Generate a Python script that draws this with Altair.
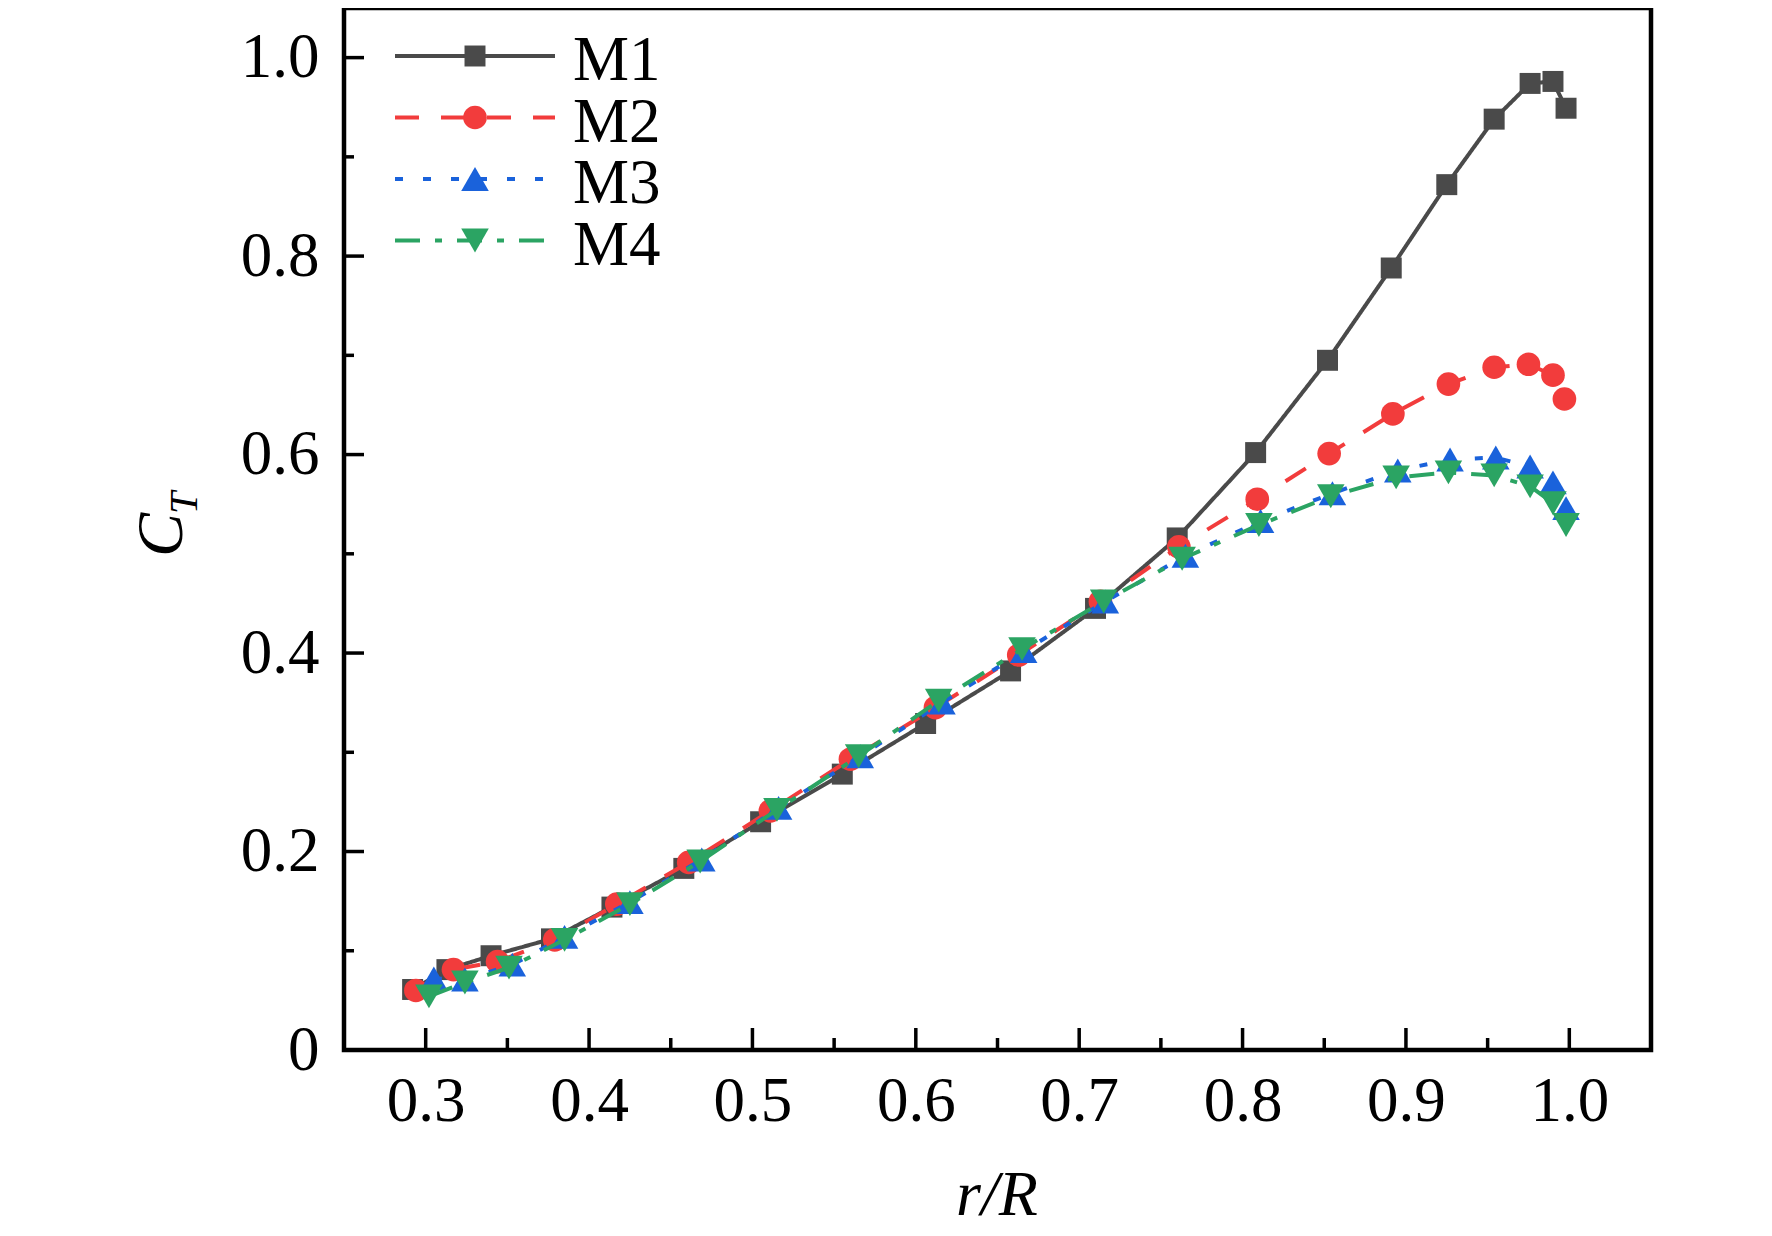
import altair as alt
import pandas as pd

series = ["M1", "M2", "M3", "M4"]
colors = ["#4a4a4a", "#f23c3c", "#1a62db", "#2ba463"]
shapes = ["square", "circle", "triangle-up", "triangle-down"]
sizes = [440, 560, 760, 760]
dashes = [[1, 0], [24, 22], [8, 20], [25, 15, 7, 15]]

m1_x = [0.292, 0.313, 0.340, 0.377, 0.414, 0.458, 0.505, 0.555, 0.606, 0.658,
        0.710, 0.760, 0.808, 0.852, 0.891, 0.925, 0.954, 0.976, 0.990, 0.998]
m1_y = [0.061, 0.081, 0.095, 0.112, 0.144, 0.183, 0.230, 0.278, 0.329, 0.382,
        0.445, 0.516, 0.602, 0.695, 0.788, 0.872, 0.938, 0.974, 0.976, 0.949]

m2_x = [0.294, 0.317, 0.344, 0.379, 0.417, 0.461, 0.511, 0.560, 0.612, 0.663,
        0.713, 0.761, 0.809, 0.853, 0.892, 0.926, 0.954, 0.975, 0.990, 0.997]
m2_y = [0.060, 0.081, 0.089, 0.111, 0.147, 0.189, 0.241, 0.293, 0.345, 0.398,
        0.452, 0.507, 0.555, 0.601, 0.641, 0.671, 0.688, 0.691, 0.680, 0.656]

m3_x = [0.305, 0.324, 0.353, 0.385, 0.425, 0.469, 0.516, 0.566, 0.616, 0.666,
        0.716, 0.765, 0.811, 0.855, 0.895, 0.927, 0.955, 0.976, 0.990, 0.998]
m3_y = [0.072, 0.071, 0.086, 0.114, 0.149, 0.192, 0.244, 0.296, 0.350, 0.402,
        0.452, 0.498, 0.533, 0.561, 0.584, 0.595, 0.597, 0.588, 0.572, 0.546]

m4_x = [0.302, 0.324, 0.351, 0.385, 0.425, 0.468, 0.515, 0.565, 0.614, 0.665,
        0.715, 0.763, 0.810, 0.854, 0.894, 0.926, 0.954, 0.976, 0.990, 0.998]
m4_y = [0.054, 0.068, 0.083, 0.111, 0.147, 0.190, 0.242, 0.296, 0.352, 0.404,
        0.452, 0.495, 0.529, 0.558, 0.577, 0.582, 0.579, 0.568, 0.551, 0.529]

xs = [m1_x, m2_x, m3_x, m4_x]
ys = [m1_y, m2_y, m3_y, m4_y]

x_major = [0.3, 0.4, 0.5, 0.6, 0.7, 0.8, 0.9, 1.0]
x_minor = [0.35, 0.45, 0.55, 0.65, 0.75, 0.85, 0.95]
y_major = [0.0, 0.2, 0.4, 0.6, 0.8, 1.0]
y_minor = [0.1, 0.3, 0.5, 0.7, 0.9]

W, H = 1307, 1042
FONT = "Liberation Serif"
FS = 63

xscale = alt.Scale(domain=[0.25, 1.05], nice=False, zero=False)
yscale = alt.Scale(domain=[0.0, 1.05], nice=False, zero=False)

xaxis = alt.Axis(
    values=x_major, format=".1f", ticks=False, domain=False, grid=False,
    labelFont=FONT, labelFontSize=FS, labelColor="black", labelPadding=20,
    labelFlush=False, labelOverlap=False, labelBound=False, title=None)
yaxis = alt.Axis(
    values=y_major, ticks=False, domain=False, grid=False,
    labelExpr="datum.value == 0 ? '0' : format(datum.value, '.1f')",
    labelFont=FONT, labelFontSize=FS, labelColor="black", labelPadding=25,
    labelFlush=False, labelOverlap=False, labelBound=False, title=None)


def X(f):
    return alt.X(f, scale=xscale, axis=xaxis)


def Y(f):
    return alt.Y(f, scale=yscale, axis=yaxis)


layers = []

# data series
for i, name in enumerate(series):
    df = pd.DataFrame({"x": xs[i], "y": ys[i], "series": name})
    line = alt.Chart(df).mark_line(
        color=colors[i], strokeWidth=4, strokeDash=dashes[i]
    ).encode(x=X("x:Q"), y=Y("y:Q"))
    pts = alt.Chart(df).mark_point(
        shape=shapes[i], size=sizes[i], filled=True, opacity=1, color=colors[i]
    ).encode(x=X("x:Q"), y=Y("y:Q"))
    layers += [line, pts]


# inward ticks
def xticks(vals, length):
    return alt.Chart(pd.DataFrame({"x": vals})).mark_rule(color="black", strokeWidth=3.5).encode(
        x=X("x:Q"), y=alt.value(H), y2=alt.value(H - length))


def yticks(vals, length):
    return alt.Chart(pd.DataFrame({"y": vals})).mark_rule(color="black", strokeWidth=3.5).encode(
        y=Y("y:Q"), x=alt.value(0), x2=alt.value(length))


layers += [xticks(x_major, 22), xticks(x_minor, 12), yticks(y_major, 20), yticks(y_minor, 10)]

# legend
LX0, LX1, LMX, LTX = 51, 211, 131, 229
for i, name in enumerate(series):
    ly = 48 + 61.5 * i
    d = pd.DataFrame({"label": [name]})
    layers.append(alt.Chart(d).mark_rule(color=colors[i], strokeWidth=4, strokeDash=dashes[i]).encode(
        x=alt.value(LX0), x2=alt.value(LX1), y=alt.value(ly)))
    layers.append(alt.Chart(d).mark_point(shape=shapes[i], size=sizes[i], filled=True, opacity=1,
                                          color=colors[i]).encode(x=alt.value(LMX), y=alt.value(ly)))
    layers.append(alt.Chart(d).mark_text(font=FONT, fontSize=FS, align="left", baseline="alphabetic",
                                         color="black").encode(
        x=alt.value(LTX), y=alt.value(ly + 24), text="label:N"))

# axis titles
tdf = pd.DataFrame({"t": ["r/R"]})
layers.append(alt.Chart(tdf).mark_text(font=FONT, fontSize=64, fontStyle="italic", align="center",
                                       baseline="alphabetic", color="black").encode(
    x=alt.value(653), y=alt.value(1207), text="t:N"))
cdf = pd.DataFrame({"t": ["C"]})
layers.append(alt.Chart(cdf).mark_text(font=FONT, fontSize=66, fontStyle="italic", align="left",
                                       baseline="alphabetic", angle=270, color="black").encode(
    x=alt.value(-162), y=alt.value(549), text="t:N"))
sdf = pd.DataFrame({"t": ["T"]})
layers.append(alt.Chart(sdf).mark_text(font=FONT, fontSize=40, fontStyle="italic", align="left",
                                       baseline="alphabetic", angle=270, color="black").encode(
    x=alt.value(-147), y=alt.value(506), text="t:N"))

chart = alt.layer(*layers).properties(
    width=W, height=H,
    background="white",
    autosize=alt.AutoSizeParams(type="none"),
    padding={"left": 336, "top": 0, "right": 113, "bottom": 178},
).configure_view(stroke="black", strokeWidth=4.5)

chart.save("out.html", embed_options={"renderer": "svg", "actions": False})
